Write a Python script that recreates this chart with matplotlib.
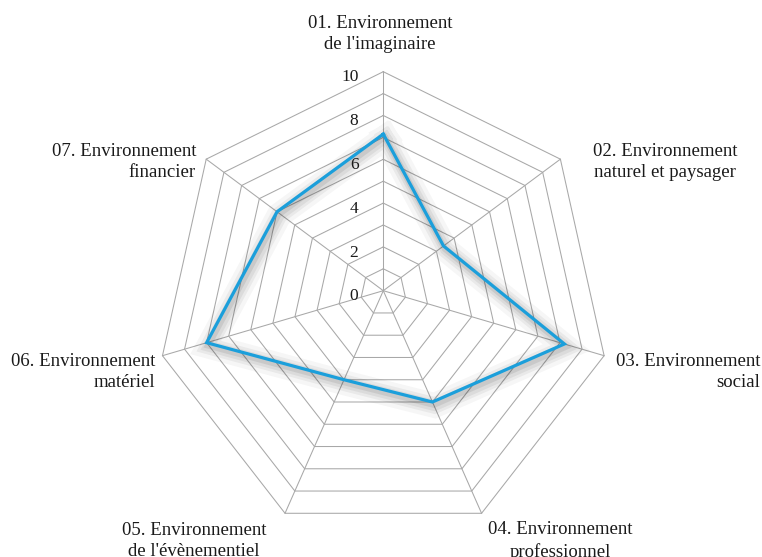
import numpy as np
import matplotlib
matplotlib.use("Agg")
import matplotlib.pyplot as plt
import matplotlib.patheffects as pe

# data
categories = [
    "01. Environnement\nde l'imaginaire",
    "02. Environnement\nnaturel et paysager",
    "03. Environnement\nsocial",
    "04. Environnement\nprofessionnel",
    "05. Environnement\nde l'évènementiel",
    "06. Environnement\nmatériel",
    "07. Environnement\nfinancier",
]
scores = [7.15, 3.4, 8.2, 5.0, 4.0, 8.0, 6.0]
tick_values = [0, 2, 4, 6, 8, 10]
grid_levels = list(range(1, 11))
r_max = 10

W, H = 762, 557
px_unit = 22.65          # pixels per value unit (horizontal)
center_px = (383.3, 290.7)
ky = 1.0256              # slight vertical stretch of the original
drop = 0.0587            # rings drift downward as they grow

n = len(categories)
angles = np.arange(n) * 2 * np.pi / n


def to_xy(values):
    v = np.asarray(values, dtype=float)
    x = v * np.sin(angles[: len(v)])
    y = v * (ky * np.cos(angles[: len(v)]) - drop)
    return x, y


fig = plt.figure(figsize=(W / 100, H / 100), dpi=100)
ax = fig.add_axes([0, 0, 1, 1])
ax.set_xlim(-center_px[0] / px_unit, (W - center_px[0]) / px_unit)
ax.set_ylim(-(H - center_px[1]) / px_unit, center_px[1] / px_unit)
ax.axis("off")

grid_color = "#a8a8a8"
for lvl in grid_levels:
    gx, gy = to_xy([lvl] * n)
    ax.plot(np.append(gx, gx[0]), np.append(gy, gy[0]), color=grid_color, lw=0.75, zorder=1)
for k in range(n):
    vals = np.zeros(n)
    vals[k] = r_max
    sx, sy = to_xy(vals)
    ax.plot([0, sx[k]], [0, sy[k]], color=grid_color, lw=0.75, zorder=1)

dx, dy = to_xy(scores)
# soft outer shadow like the original
shadow = [
    pe.SimpleLineShadow(offset=(1.5, -2.5), shadow_color="black", alpha=0.035, linewidth=18),
    pe.SimpleLineShadow(offset=(1.5, -2.5), shadow_color="black", alpha=0.05, linewidth=12),
    pe.SimpleLineShadow(offset=(1.5, -2.5), shadow_color="black", alpha=0.06, linewidth=8),
    pe.SimpleLineShadow(offset=(1, -2), shadow_color="black", alpha=0.08, linewidth=4.5),
    pe.Normal(),
]
ax.plot(np.append(dx, dx[0]), np.append(dy, dy[0]), color="#1b9fdb", lw=2.3,
        solid_joinstyle="miter", zorder=3, path_effects=shadow)

font = ["Liberation Serif", "DejaVu Serif"]
for t in tick_values:
    ty = t * (ky - drop)
    ax.text(-1.1, ty - 0.25, str(t), ha="right", va="center", fontsize=12.5,
            family=font, color="#1a1a1a")

# category label anchors (pixel positions in the reference) and alignment
label_pos = [(380, 34, "center"), (665, 162, "center"), (760, 372, "right"),
             (560, 541, "center"), (194, 541, "center"), (155, 372, "right"),
             (196, 162, "right")]
for text, (lx, ly, al) in zip(categories, label_pos):
    fig.text(lx / W, 1 - ly / H, text, ha=al, va="center", multialignment=al,
             fontsize=13.5, family=font, color="#1a1a1a", linespacing=1.35)

fig.savefig("out.png", dpi=100)
